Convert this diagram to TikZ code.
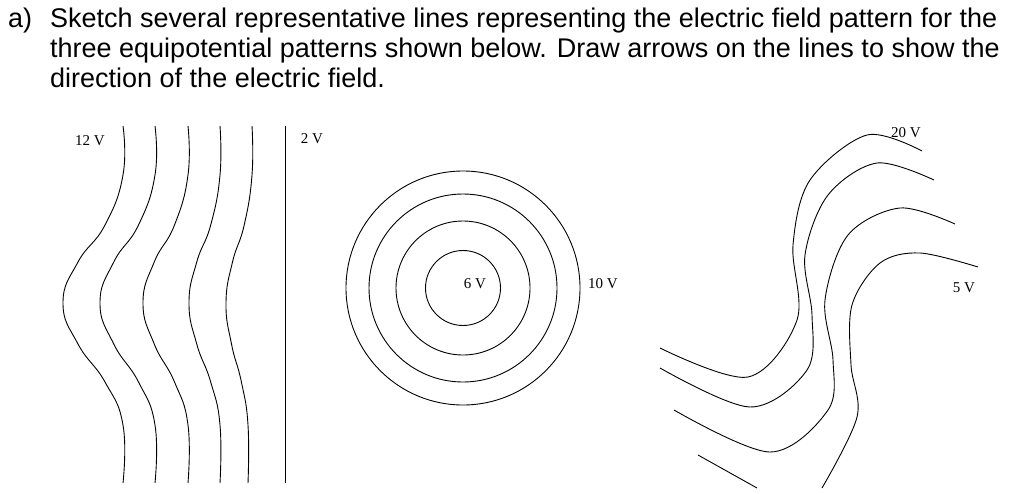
\documentclass[tikz,border=0pt]{standalone}
\usepackage{fontspec}
\setmainfont{Liberation Serif}
\newfontfamily\titlefont{Liberation Sans}
\begin{document}
\begin{tikzpicture}[x=1pt,y=-1pt,
  eq/.style={line width=0.9pt,black},
  rc/.style={eq,smooth,tension=0.55},
  lab/.style={font=\fontsize{15}{16}\selectfont,inner sep=0pt},
  ttl/.style={font=\titlefont\fontsize{27}{30}\selectfont,anchor=base west,inner sep=0pt}]
\useasboundingbox (0,0) rectangle (1024,493);
\node[ttl] (ta) at (8,27) {a)};
\node[ttl] (t1) at (50,27) {Sketch several representative lines representing the electric field pattern for the};
\node[ttl] (t2) at (50,57) {three equipotential patterns shown below. Draw arrows on the lines to show the};
\node[ttl] (t3) at (50,87) {direction of the electric field.};
% left pattern
\foreach \t/\b/\m in {123/123/63, 155/155/100, 188/188/143, 220/220/189, 252/248/226}{
  \draw[eq] plot[smooth,tension=0.8] coordinates {(\t,126) (\t,175) ({\t-0.3*(\t-\m)},225) ({\m+0.25*(\t-\m)},262) (\m,303) ({\m+0.25*(\b-\m)},344) ({\b-0.3*(\b-\m)},382) (\b,425) (\b,483)};
}
\draw[eq] (285,126) -- (285,483);
\node[lab] (v12) at (90,141) {12 V};
\node[lab] (v2) at (312,139) {2 V};
% circles
\coordinate (c) at (463,288);
\foreach \r in {117,94,67,37.5}{\draw[eq] (c) circle[radius=\r];}
\node[lab] (v6) at (475,284) {6 V};
\node[lab] (v10) at (603,284) {10 V};
% right pattern
\draw[eq] plot[smooth,tension=0.55] coordinates {(660,348) (748,377) (797,320) (793,245) (810,180) (867,135) (922,151)};
\draw[eq] plot[smooth,tension=0.55] coordinates {(660,368) (750,407) (807,370) (812,315) (805,255) (828,195) (877,163) (934,180)};
\draw[eq] plot[smooth,tension=0.55] coordinates {(674,410) (770,452) (828,410) (833,360) (825,300) (848,235) (900,208) (955,224)};
\draw[eq] (698,455) -- (757,488);
\draw[eq] plot[smooth,tension=0.55] coordinates {(822,488) (857,417) (851,365) (852,305) (880,263) (920,253) (978,267)};
\node[lab] (v20) at (906,133) {20 V};
\node[lab] (v5) at (964,288) {5 V};
\end{tikzpicture}
\end{document}
